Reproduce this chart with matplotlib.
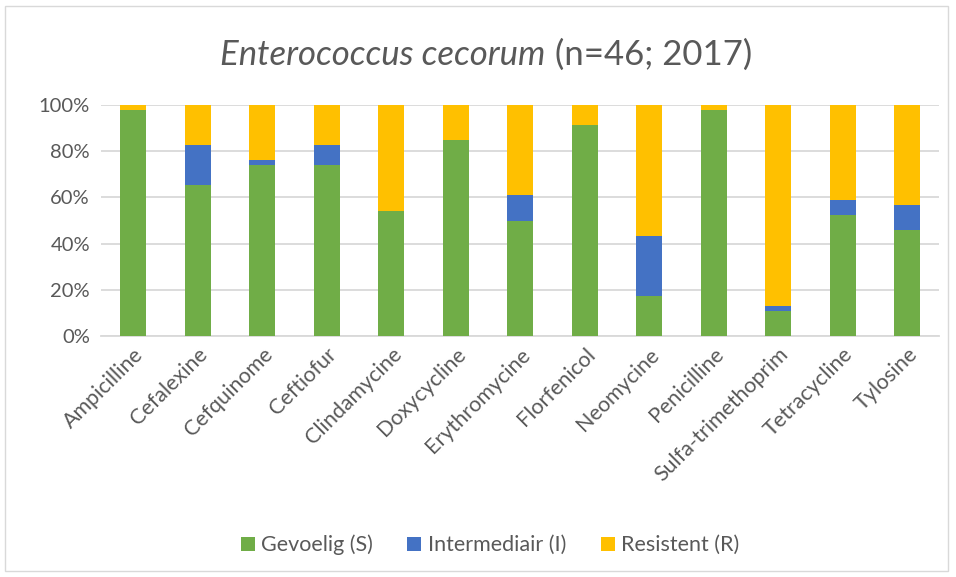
import matplotlib
matplotlib.use("Agg")
import matplotlib.pyplot as plt
from matplotlib.patches import Rectangle
import numpy as np

categories = ["Ampicilline", "Cefalexine", "Cefquinome", "Ceftiofur", "Clindamycine",
              "Doxycycline", "Erythromycine", "Florfenicol", "Neomycine", "Penicilline",
              "Sulfa-trimethoprim", "Tetracycline", "Tylosine"]
gevoelig = [97.8, 65.2, 73.9, 73.9, 54.3, 84.8, 50.0, 91.3, 17.4, 97.8, 10.9, 52.2, 45.7]
intermediair = [0.0, 17.4, 2.2, 8.7, 0.0, 0.0, 10.9, 0.0, 26.1, 0.0, 2.2, 6.5, 10.9]
resistent = [2.2, 17.4, 23.9, 17.4, 45.7, 15.2, 39.1, 8.7, 56.5, 2.2, 87.0, 41.3, 43.5]
series_names = ["Gevoelig (S)", "Intermediair (I)", "Resistent (R)"]
colors = ["#70AD47", "#4472C4", "#FFC000"]

plt.rcParams['font.family'] = ['Lato', 'DejaVu Sans']
text_color = "#595959"

fig = plt.figure(figsize=(9.56, 5.77), dpi=100)
ax = fig.add_axes([0.1057, 0.4177, 0.877, 0.4003])

x = np.arange(len(categories))
g = np.array(gevoelig); i_ = np.array(intermediair); r = np.array(resistent)
w = 0.40
ax.bar(x, g, w, color=colors[0], label=series_names[0], zorder=3)
ax.bar(x, i_, w, bottom=g, color=colors[1], label=series_names[1], zorder=3)
ax.bar(x, r, w, bottom=g + i_, color=colors[2], label=series_names[2], zorder=3)

ax.set_xlim(-0.5, len(categories) - 0.5)
ax.set_ylim(0, 100)
ax.set_yticks([0, 20, 40, 60, 80, 100])
ax.set_yticklabels([f"{v}%" for v in [0, 20, 40, 60, 80, 100]])
ax.yaxis.grid(True, color="#D9D9D9", linewidth=1.3, zorder=0)
ax.set_axisbelow(True)
for s in ["top", "right", "left"]:
    ax.spines[s].set_visible(False)
ax.spines["bottom"].set_color("#D9D9D9")
ax.spines["bottom"].set_linewidth(1.3)
ax.tick_params(axis="both", length=0, colors=text_color)
ax.tick_params(axis="y", pad=8, labelsize=14.5)
ax.set_xticks(x)
ax.set_xticklabels(categories, rotation=45, ha="right", rotation_mode="anchor")
ax.tick_params(axis="x", pad=6, labelsize=15.5)

# Title with italic species name
fig.canvas.draw()
renderer = fig.canvas.get_renderer()
t1 = fig.text(0, 0, "Enterococcus cecorum", fontsize=25, style="italic", color=text_color)
t2 = fig.text(0, 0, " (n=46; 2017)", fontsize=25, color=text_color)
w1 = t1.get_window_extent(renderer).width
w2 = t2.get_window_extent(renderer).width
W = fig.bbox.width
cx = 486
start = cx - (w1 + w2) / 2
ty = 1 - 65 / 577
t1.set_position((start / W, ty))
t2.set_position(((start + w1) / W, ty))

leg = fig.legend(loc="center", bbox_to_anchor=(490 / 956, 1 - 545 / 577), ncol=3, frameon=False,
                 fontsize=15.5, handlelength=0.65, handleheight=0.65, handletextpad=0.3,
                 columnspacing=1.6, labelcolor=text_color)

fig.patches.append(Rectangle((5 / 956, 6 / 577), 943 / 956, 565 / 577, transform=fig.transFigure,
                             fill=False, edgecolor="#D9D9D9", linewidth=1))

fig.savefig("out.png", dpi=100)
